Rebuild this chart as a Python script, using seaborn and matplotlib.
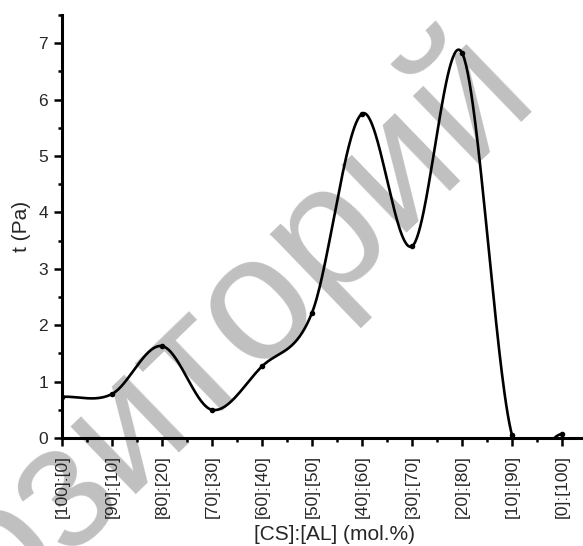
import numpy as np
import pandas as pd
import matplotlib
matplotlib.use("Agg")
import matplotlib.pyplot as plt
from matplotlib.ticker import MultipleLocator
import seaborn as sns

# composition labels and measured stress values
categories = ["[100]:[0]", "[90]:[10]", "[80]:[20]", "[70]:[30]", "[60]:[40]",
              "[50]:[50]", "[40]:[60]", "[30]:[70]", "[20]:[80]", "[10]:[90]",
              "[0]:[100]"]
stress = [0.73, 0.78, 1.63, 0.50, 1.27, 2.22, 5.75, 3.40, 6.83, 0.05, 0.07]
y_ticks = [0, 1, 2, 3, 4, 5, 6, 7]
watermark = "репозиторий"


def spline_curve(x, y, per_seg=60):
    # Catmull-Rom style connector through every point
    x = np.asarray(x, float)
    y = np.asarray(y, float)
    n = len(x)
    m = np.zeros(n)
    m[1:-1] = (y[2:] - y[:-2]) / (x[2:] - x[:-2])
    m[0] = (y[1] - y[0]) / (x[1] - x[0])
    m[-1] = (y[-1] - y[-2]) / (x[-1] - x[-2])
    xs, ys = [], []
    for i in range(n - 1):
        h = x[i + 1] - x[i]
        t = np.linspace(0, 1, per_seg, endpoint=(i == n - 2))
        h00 = 2 * t ** 3 - 3 * t ** 2 + 1
        h10 = t ** 3 - 2 * t ** 2 + t
        h01 = -2 * t ** 3 + 3 * t ** 2
        h11 = t ** 3 - t ** 2
        xs.append(x[i] + t * h)
        ys.append(h00 * y[i] + h10 * h * m[i] + h01 * y[i + 1] + h11 * h * m[i + 1])
    return np.concatenate(xs), np.concatenate(ys)


sns.set_style("ticks")
plt.rcParams['font.family'] = ['Liberation Sans', 'DejaVu Sans']

fig = plt.figure(figsize=(5.83, 5.46), dpi=100)
ax = fig.add_axes([0.1063, 0.1978, 0.892, 0.7747])
ax.patch.set_alpha(0)

fig.text(0.278, 0.161, watermark, fontsize=128, color='#c0c0c0',
         rotation=44, rotation_mode='anchor', ha='center', va='baseline',
         zorder=-1)

pos = np.arange(len(categories))
xs, ys = spline_curve(pos, stress)
curve = pd.DataFrame({'x': xs, 'y': ys})
points = pd.DataFrame({'x': pos, 'y': stress})

sns.lineplot(data=curve, x='x', y='y', ax=ax, color='black', linewidth=1.9,
             sort=False)
sns.scatterplot(data=points, x='x', y='y', ax=ax, color='black', s=16,
                edgecolor='black', linewidth=0, zorder=3)

ax.set_xlim(0, 10.4)
ax.set_ylim(0, 7.5)
ax.set_xticks(pos)
ax.set_xticklabels(categories, rotation=90, fontsize=12.5)
ax.set_yticks(y_ticks)
ax.set_yticklabels([str(t) for t in y_ticks], fontsize=12.5)
ax.xaxis.set_minor_locator(MultipleLocator(0.5))
ax.yaxis.set_minor_locator(MultipleLocator(0.5))
ax.tick_params(which='major', direction='out', length=6, width=1.8,
               color='black')
ax.tick_params(which='minor', direction='out', length=3, width=1.8,
               color='black')
ax.tick_params(axis='x', which='major', pad=6)
ax.tick_params(axis='y', which='major', pad=4)
sns.despine(ax=ax)
for side in ['left', 'bottom']:
    ax.spines[side].set_linewidth(2.2)
    ax.spines[side].set_color('black')

ax.set_xlabel("[CS]:[AL] (mol.%)", fontsize=15, va='center')
ax.xaxis.set_label_coords(0.525, -0.2275)
ax.set_ylabel("t (Pa)", fontsize=15, va='center')
ax.yaxis.set_label_coords(-0.077, 0.5)

fig.savefig("out.png", dpi=100)
